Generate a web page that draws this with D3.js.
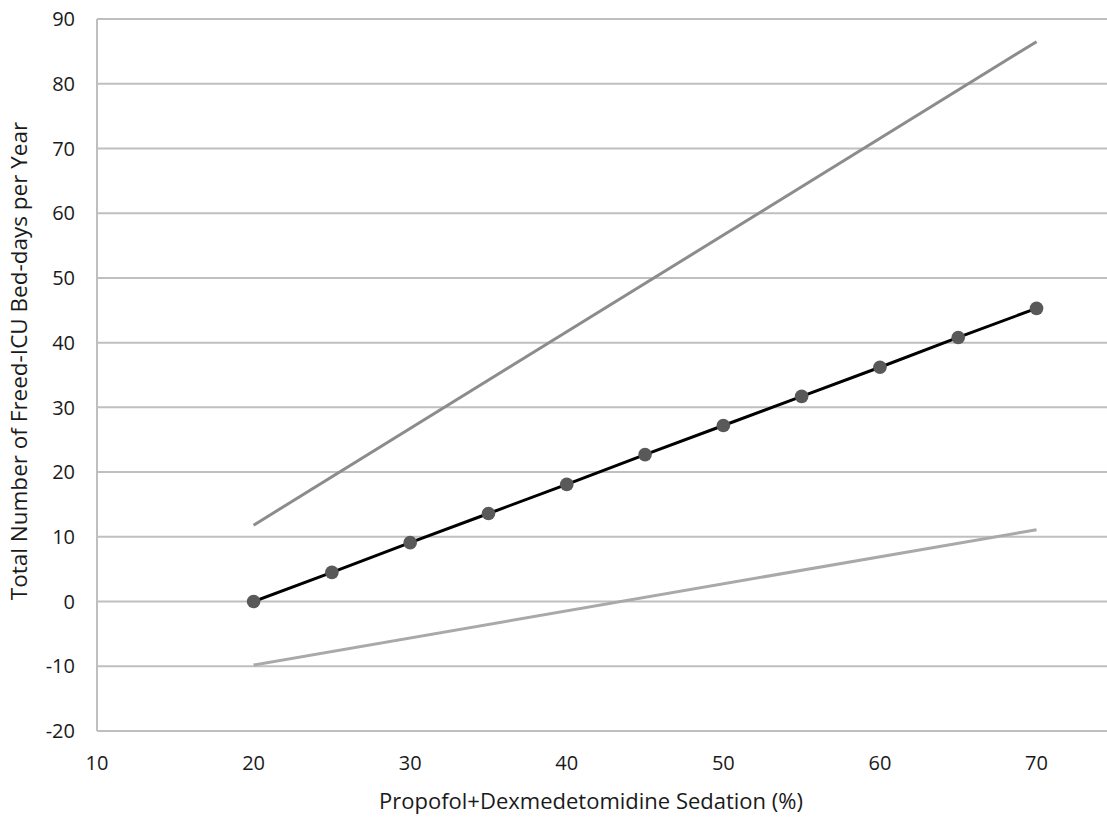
<!DOCTYPE html>
<html>
<head>
<meta charset="utf-8">
<script src="https://cdn.jsdelivr.net/npm/d3@7"></script>
<style>
  body { margin: 0; background: #fff; }
  text { font-family: "Open Sans", "DejaVu Sans", sans-serif; fill: #1a1a1a; }
</style>
</head>
<body>
<div id="chart"></div>
<script>
var sedation = [20, 25, 30, 35, 40, 45, 50, 55, 60, 65, 70];
var freedDays = [0, 4.5, 9.1, 13.6, 18.1, 22.7, 27.2, 31.7, 36.2, 40.8, 45.3];
var upperX = [20, 70];
var upperY = [11.8, 86.5];
var lowerX = [20, 70];
var lowerY = [-9.8, 11.1];
var xTicks = [10, 20, 30, 40, 50, 60, 70];
var yTicks = [-20, -10, 0, 10, 20, 30, 40, 50, 60, 70, 80, 90];

var width = 1107, height = 821;
var margin = { top: 19, right: 0, bottom: 90, left: 97 };

var svg = d3.select("#chart").append("svg")
    .attr("width", width)
    .attr("height", height);

var x = d3.scaleLinear().domain([10, 74.5]).range([margin.left, width - margin.right]);
var y = d3.scaleLinear().domain([-20, 90]).range([height - margin.bottom, margin.top]);

// gridlines
svg.append("g")
  .selectAll("line")
  .data(yTicks)
  .join("line")
    .attr("x1", x(10)).attr("x2", width)
    .attr("y1", d => y(d)).attr("y2", d => y(d))
    .attr("stroke", "#bfbfbf")
    .attr("stroke-width", 2);

// left axis line
svg.append("line")
  .attr("x1", x(10)).attr("x2", x(10))
  .attr("y1", y(90)).attr("y2", y(-20))
  .attr("stroke", "#bfbfbf")
  .attr("stroke-width", 2);

// tick labels
svg.append("g")
  .selectAll("text")
  .data(yTicks)
  .join("text")
    .attr("x", x(10) - 22)
    .attr("y", d => y(d))
    .attr("dy", "0.36em")
    .attr("text-anchor", "end")
    .attr("font-size", 20)
    .text(d => d);

svg.append("g")
  .selectAll("text")
  .data(xTicks)
  .join("text")
    .attr("x", d => x(d))
    .attr("y", 770)
    .attr("text-anchor", "middle")
    .attr("font-size", 20)
    .text(d => d);

// axis titles
svg.append("text")
  .attr("x", 591)
  .attr("y", 809)
  .attr("text-anchor", "middle")
  .attr("font-size", 22)
  .text("Propofol+Dexmedetomidine Sedation (%)");

svg.append("text")
  .attr("transform", "translate(27,361) rotate(-90)")
  .attr("text-anchor", "middle")
  .attr("font-size", 22.5)
  .text("Total Number of Freed-ICU Bed-days per Year");

var line = d3.line().x(d => x(d[0])).y(d => y(d[1]));

svg.append("path")
  .datum(d3.zip(upperX, upperY))
  .attr("d", line)
  .attr("fill", "none")
  .attr("stroke", "#8c8c8c")
  .attr("stroke-width", 3);

svg.append("path")
  .datum(d3.zip(lowerX, lowerY))
  .attr("d", line)
  .attr("fill", "none")
  .attr("stroke", "#a9a9a9")
  .attr("stroke-width", 3);

svg.append("path")
  .datum(d3.zip(sedation, freedDays))
  .attr("d", line)
  .attr("fill", "none")
  .attr("stroke", "#000")
  .attr("stroke-width", 3);

svg.append("g")
  .selectAll("circle")
  .data(d3.zip(sedation, freedDays))
  .join("circle")
    .attr("cx", d => x(d[0]))
    .attr("cy", d => y(d[1]))
    .attr("r", 6.8)
    .attr("fill", "#595959");
</script>
</body>
</html>
